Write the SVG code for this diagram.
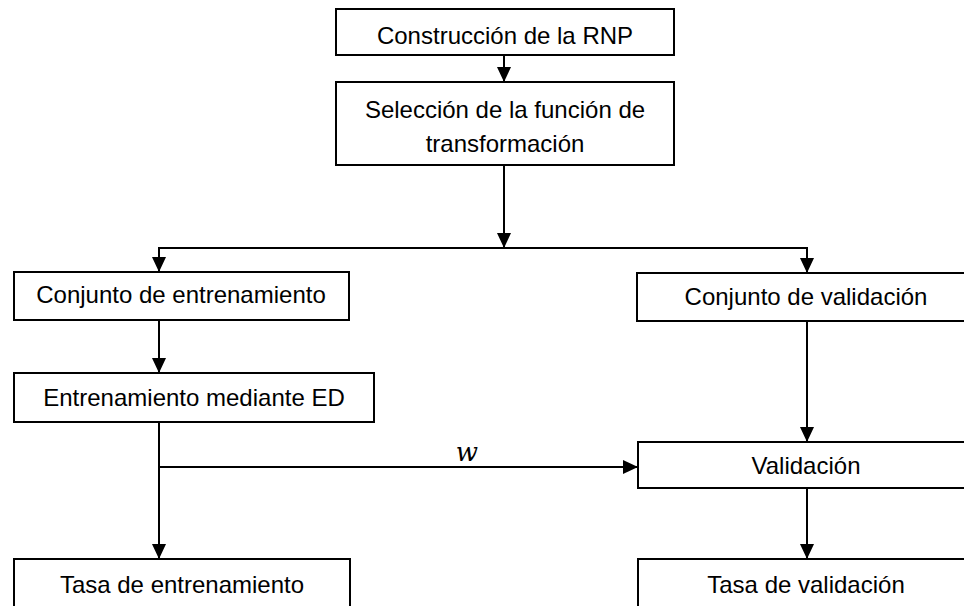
<svg xmlns="http://www.w3.org/2000/svg" width="964" height="606" viewBox="0 0 964 606">
<defs>
<style>
.box{fill:#fff;stroke:#000;stroke-width:2}
.t{font-family:"Liberation Sans",Arial,sans-serif;font-size:24px;fill:#000;text-anchor:middle}
.c{fill:none;stroke:#000;stroke-width:2}
</style>
<marker id="ah" markerUnits="userSpaceOnUse" markerWidth="15" markerHeight="14" refX="15" refY="7" orient="auto">
<path d="M0,0 L15,7 L0,14 z" fill="#000"/>
</marker>
</defs>
<rect width="964" height="606" fill="#fff"/>
<g id="connectors">
<line class="c" x1="504" y1="55" x2="504" y2="82" marker-end="url(#ah)"/>
<line class="c" x1="504" y1="165" x2="504" y2="248" marker-end="url(#ah)"/>
<polyline class="c" points="159,272 159,248 807,248 807,273" />
<line class="c" x1="159" y1="249" x2="159" y2="272" marker-end="url(#ah)"/>
<line class="c" x1="807" y1="249" x2="807" y2="273" marker-end="url(#ah)"/>
<line class="c" x1="159" y1="320" x2="159" y2="373" marker-end="url(#ah)"/>
<line class="c" x1="807" y1="321" x2="807" y2="442" marker-end="url(#ah)"/>
<line class="c" x1="159" y1="422" x2="159" y2="559" marker-end="url(#ah)"/>
<line class="c" x1="159" y1="467" x2="638" y2="467" marker-end="url(#ah)"/>
<line class="c" x1="807" y1="488" x2="807" y2="559" marker-end="url(#ah)"/>
<text x="467" y="461" font-family="'DejaVu Serif',serif" font-style="italic" font-size="26" text-anchor="middle">w</text>
</g>
<g id="n1"><rect class="box" x="336" y="9" width="338" height="46"/><text class="t" x="505" y="44">Construcción de la RNP</text></g>
<g id="n2"><rect class="box" x="336" y="82" width="338" height="83"/><text class="t" x="505" y="118">Selección de la función de</text><text class="t" x="505" y="152">transformación</text></g>
<g id="n3"><rect class="box" x="14" y="272" width="335" height="48"/><text class="t" x="181" y="303">Conjunto de entrenamiento</text></g>
<g id="n4"><rect class="box" x="637" y="273" width="340" height="48"/><text class="t" x="806" y="305">Conjunto de validación</text></g>
<g id="n5"><rect class="box" x="14" y="373" width="360" height="49"/><text class="t" x="194" y="406">Entrenamiento mediante ED</text></g>
<g id="n6"><rect class="box" x="638" y="442" width="340" height="46"/><text class="t" x="806" y="474">Validación</text></g>
<g id="n7"><rect class="box" x="14" y="559" width="336" height="60"/><text class="t" x="182" y="593">Tasa de entrenamiento</text></g>
<g id="n8"><rect class="box" x="638" y="559" width="340" height="60"/><text class="t" x="806" y="593">Tasa de validación</text></g>
</svg>
